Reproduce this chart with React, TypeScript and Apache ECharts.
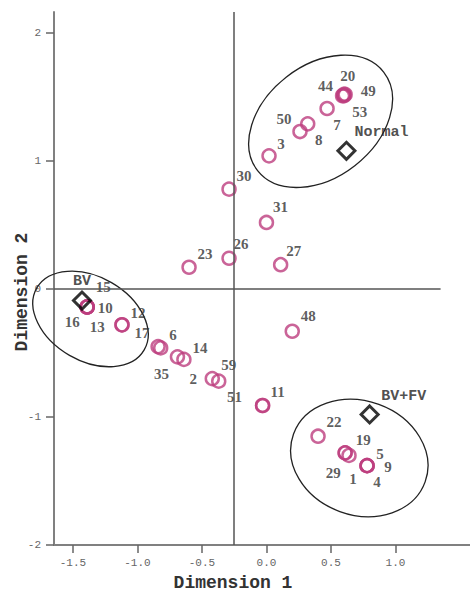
import React, { useEffect, useRef } from "react";
import * as echarts from "echarts";

// Case points (circles)
const caseNames = ["44", "20", "49", "53", "7", "8", "50", "3", "30", "31", "26", "23", "27", "15", "10", "16", "13", "12", "17", "6", "", "35", "14", "2", "59", "51", "11", "48", "22", "19", "29", "1", "5", "9", "4"];
const caseDim1 = [0.59, 0.60, 0.61, 0.60, 0.47, 0.32, 0.26, 0.02, -0.29, 0.00, -0.29, -0.60, 0.11, -1.39, -1.39, -1.39, -1.39, -1.12, -1.12, -0.84, -0.82, -0.69, -0.64, -0.42, -0.37, -0.03, -0.03, 0.20, 0.40, 0.61, 0.61, 0.64, 0.78, 0.78, 0.78];
const caseDim2 = [1.51, 1.52, 1.52, 1.51, 1.41, 1.29, 1.23, 1.04, 0.78, 0.52, 0.24, 0.17, 0.19, -0.14, -0.14, -0.14, -0.14, -0.28, -0.28, -0.45, -0.46, -0.53, -0.55, -0.70, -0.72, -0.91, -0.91, -0.33, -1.15, -1.28, -1.28, -1.30, -1.38, -1.38, -1.38];

// Group centroids (diamonds)
const groupNames = ["Normal", "BV", "BV+FV"];
const groupDim1 = [0.62, -1.43, 0.80];
const groupDim2 = [1.08, -0.09, -0.98];

// Cluster ellipses (centre in data units)
const ellipseDim1 = [0.42, -1.364, 0.72];
const ellipseDim2 = [1.31, -0.234, -1.32];

// Axis ticks
const xTicks = [-1.5, -1.0, -0.5, 0.0, 0.5, 1.0];
const yTicks = [-2, -1, 0, 1, 2];
const xMin = -1.647;
const xMax = 1.578;
const yMin = -2;
const yMax = 2.164;
const refX = -0.25;
const refY = 0;
const refYEnd = 1.35;

// label placement (style only, pixels)
const labelOffsets: Record<string, [number, number]> = {
  "44": [-17, -10], "20": [4, -18], "49": [23, -3], "53": [16, 16], "7": [10, 16], "8": [11, 16],
  "50": [-16, -13], "3": [12, -12], "30": [15, -13], "31": [14, -15], "26": [12, -14], "23": [16, -13],
  "27": [13, -14], "15": [16, -20], "10": [18, 1], "16": [-15, 15], "13": [10, 20], "12": [16, -12],
  "17": [20, 8], "6": [15, -12], "35": [-16, 17], "14": [16, -11], "2": [-19, 0], "59": [10, -16],
  "51": [-28, -8], "11": [15, -13], "48": [16, -15], "22": [16, -14], "19": [18, -13], "29": [-12, 20],
  "1": [4, 24], "5": [13, -12], "9": [21, 1], "4": [10, 16],
  "Normal": [35, -18], "BV": [0, -19], "BV+FV": [34, -18],
};
const ellipseStyle = [
  { rx: 80, ry: 56, rot: 38 },
  { rx: 62, ry: 42, rot: -30 },
  { rx: 70, ry: 57, rot: -20 },
];

export default function App() {
  const ref = useRef<HTMLDivElement>(null);
  useEffect(() => {
    if (!ref.current) return;
    const chart = echarts.init(ref.current, null, { renderer: "svg" });
    const numFont = "'Liberation Serif', serif";
    const monoFont = "'Liberation Mono', monospace";
    const caseData = caseNames.map((n, i) => ({
      name: n,
      value: [caseDim1[i], caseDim2[i]],
      label: { offset: labelOffsets[n] || [0, 0] },
    }));
    const groupData = groupNames.map((n, i) => ({
      name: n,
      value: [groupDim1[i], groupDim2[i]],
      label: { offset: labelOffsets[n] || [0, 0] },
    }));
    const option: any = {
      animation: false,
      grid: { left: 54, right: 0, top: 12, bottom: 51 },
      xAxis: {
        type: "value",
        min: xMin,
        max: xMax,
        axisLine: { show: true, onZero: false, lineStyle: { color: "#808080", width: 2 } },
        axisTick: { show: true, customValues: xTicks, length: 8, lineStyle: { color: "#666", width: 1.5 } },
        axisLabel: {
          customValues: xTicks,
          margin: 12,
          color: "#666",
          fontFamily: monoFont,
          fontSize: 11,
          formatter: (v: number) => v.toFixed(1),
        },
        splitLine: { show: false },
      },
      yAxis: {
        type: "value",
        min: yMin,
        max: yMax,
        axisLine: { show: true, onZero: false, lineStyle: { color: "#808080", width: 2 } },
        axisTick: { show: true, customValues: yTicks, length: 8, lineStyle: { color: "#666", width: 1.5 } },
        axisLabel: {
          customValues: yTicks,
          margin: 13,
          color: "#666",
          fontFamily: monoFont,
          fontSize: 11,
          formatter: (v: number) => String(v),
        },
        splitLine: { show: false },
      },
      series: [
        {
          type: "scatter",
          data: caseData,
          symbol: "circle",
          symbolSize: 13,
          itemStyle: { color: "rgba(255,255,255,0)", borderColor: "#bd3d7e", borderWidth: 2.5 },
          label: {
            show: true,
            position: "inside",
            formatter: (p: any) => p.name,
            color: "#333",
            fontFamily: numFont,
            fontWeight: "bold",
            fontSize: 15,
          },
          markLine: {
            silent: true,
            symbol: "none",
            label: { show: false },
            lineStyle: { color: "#555", width: 1.5, type: "solid" },
            data: [
              [{ coord: [xMin, refY] }, { coord: [refYEnd, refY] }],
              [{ coord: [refX, yMin] }, { coord: [refX, yMax] }],
            ],
          },
          z: 3,
        },
        {
          type: "scatter",
          data: groupData,
          symbol: "diamond",
          symbolSize: 17,
          itemStyle: { color: "rgba(255,255,255,0)", borderColor: "#000", borderWidth: 3 },
          label: {
            show: true,
            position: "inside",
            formatter: (p: any) => p.name,
            color: "#222",
            fontFamily: monoFont,
            fontWeight: "bold",
            fontSize: 15,
          },
          z: 4,
        },
      ],
    };
    chart.setOption(option);
    const ellipses = ellipseDim1.map((x, i) => {
      const [px, py] = chart.convertToPixel({ gridIndex: 0 }, [x, ellipseDim2[i]]) as number[];
      const s = ellipseStyle[i];
      return {
        type: "ellipse",
        x: px,
        y: py,
        rotation: (s.rot * Math.PI) / 180,
        shape: { cx: 0, cy: 0, rx: s.rx, ry: s.ry },
        style: { fill: "none", stroke: "#222", lineWidth: 1.3 },
        silent: true,
        z: 2,
      };
    });
    chart.setOption({
      graphic: [
        ...ellipses,
        {
          type: "text",
          x: 233,
          y: 583,
          style: {
            text: "Dimension 1",
            fontFamily: monoFont,
            fontWeight: "bold",
            fontSize: 18,
            fill: "#333",
            align: "center",
            verticalAlign: "middle",
          },
        },
        {
          type: "text",
          x: 22,
          y: 292,
          rotation: Math.PI / 2,
          style: {
            text: "Dimension 2",
            fontFamily: monoFont,
            fontWeight: "bold",
            fontSize: 18,
            fill: "#333",
            align: "center",
            verticalAlign: "middle",
          },
        },
      ],
    });
    return () => chart.dispose();
  }, []);
  return (
    <div
      ref={ref}
      style={{ position: "fixed", left: 0, top: 0, width: 470, height: 596, background: "#fff" }}
    />
  );
}
